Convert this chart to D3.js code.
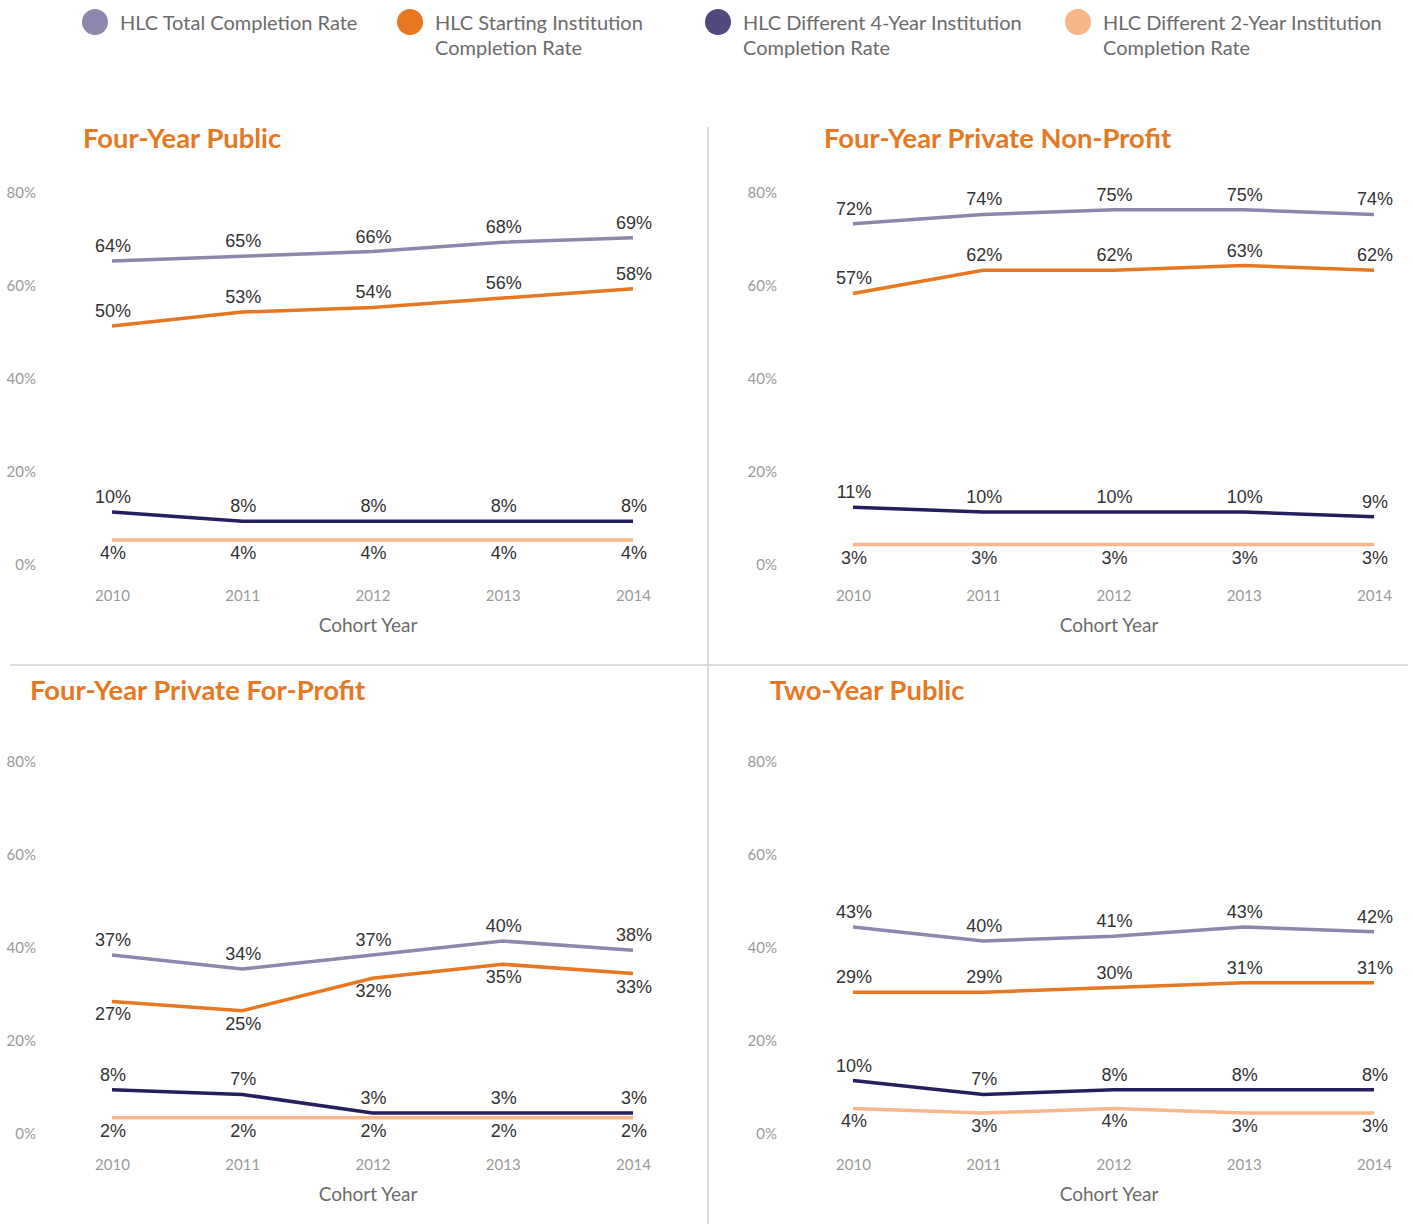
<!DOCTYPE html>
<html>
<head>
<meta charset="utf-8">
<script src="https://cdn.jsdelivr.net/npm/d3@7"></script>
<style>
  html, body { margin: 0; padding: 0; background: #fff; }
  svg { display: block; }
</style>
</head>
<body>
<svg id="chart" width="1413" height="1224"></svg>
<script>
// Cohort years on the x axis
const years = [2010, 2011, 2012, 2013, 2014];
const yTicks = [0, 20, 40, 60, 80];

// Series names (legend order)
const seriesNames = [
  "HLC Total Completion Rate",
  "HLC Starting Institution Completion Rate",
  "HLC Different 4-Year Institution Completion Rate",
  "HLC Different 2-Year Institution Completion Rate"
];
const legendLines = [
  ["HLC Total Completion Rate"],
  ["HLC Starting Institution", "Completion Rate"],
  ["HLC Different 4-Year Institution", "Completion Rate"],
  ["HLC Different 2-Year Institution", "Completion Rate"]
];

// Panel titles
const panelTitles = [
  "Four-Year Public",
  "Four-Year Private Non-Profit",
  "Four-Year Private For-Profit",
  "Two-Year Public"
];

// Completion rates (%) per sector, by cohort year
const publicFourTotal     = [64, 65, 66, 68, 69];
const publicFourStart     = [50, 53, 54, 56, 58];
const publicFourDiff4     = [10, 8, 8, 8, 8];
const publicFourDiff2     = [4, 4, 4, 4, 4];

const nonProfitTotal      = [72, 74, 75, 75, 74];
const nonProfitStart      = [57, 62, 62, 63, 62];
const nonProfitDiff4      = [11, 10, 10, 10, 9];
const nonProfitDiff2      = [3, 3, 3, 3, 3];

const forProfitTotal      = [37, 34, 37, 40, 38];
const forProfitStart      = [27, 25, 32, 35, 33];
const forProfitDiff4      = [8, 7, 3, 3, 3];
const forProfitDiff2      = [2, 2, 2, 2, 2];

const publicTwoTotal      = [43, 40, 41, 43, 42];
const publicTwoStart      = [29, 29, 30, 31, 31];
const publicTwoDiff4      = [10, 7, 8, 8, 8];
const publicTwoDiff2      = [4, 3, 4, 3, 3];

// Which label sits below its line (per panel, per series)
const labelBelow = [
  [false, false, false, true],
  [false, false, false, true],
  [false, true, false, true],
  [false, false, false, true]
];

const lineColors   = ["#8e87ad", "#e87722", "#241f5e", "#f9b68a"];
const legendColors = ["#8e87ad", "#e87722", "#524a7e", "#f9b68a"];

const panels = [
  { series: [publicFourTotal, publicFourStart, publicFourDiff4, publicFourDiff2], x0: 112, y0: 558.5, tx: 83,  ty: 137 },
  { series: [nonProfitTotal, nonProfitStart, nonProfitDiff4, nonProfitDiff2],     x0: 853, y0: 558.5, tx: 824, ty: 137 },
  { series: [forProfitTotal, forProfitStart, forProfitDiff4, forProfitDiff2],     x0: 112, y0: 1127,  tx: 30,  ty: 689 },
  { series: [publicTwoTotal, publicTwoStart, publicTwoDiff4, publicTwoDiff2],     x0: 853, y0: 1127,  tx: 770, ty: 689 }
];

const svg = d3.select("#chart");
const uiFont = "Lato, 'Open Sans', sans-serif";
const valueFont = "'Liberation Sans', Arial, sans-serif";

// Legend
const legendX = [95, 410, 718, 1078];
const legend = svg.append("g").attr("class", "legend");
seriesNames.forEach((name, i) => {
  const g = legend.append("g").attr("transform", `translate(${legendX[i]},22)`);
  g.append("circle").attr("r", 13).attr("fill", legendColors[i]);
  const t = g.append("text")
    .attr("x", 25).attr("y", 0)
    .attr("font-family", uiFont).attr("font-size", 20)
    .attr("fill", "#6b6b6b")
    .attr("dominant-baseline", "central");
  legendLines[i].forEach((ln, j) => {
    t.append("tspan").attr("x", 25).attr("dy", j === 0 ? 0 : 24.5).text(ln);
  });
});

// Panel dividers
svg.append("line").attr("x1", 708).attr("x2", 708).attr("y1", 127).attr("y2", 1224)
  .attr("stroke", "#cfcfcf").attr("stroke-width", 1.5);
svg.append("line").attr("x1", 10).attr("x2", 1408).attr("y1", 665).attr("y2", 665)
  .attr("stroke", "#cfcfcf").attr("stroke-width", 1.5);

panels.forEach((p, pi) => {
  const x = d3.scalePoint().domain(years).range([p.x0, p.x0 + 521]);
  const y = d3.scaleLinear().domain([0, 80]).range([p.y0, p.y0 - 372]);
  const g = svg.append("g").attr("class", "panel");

  // Title
  g.append("text")
    .attr("x", p.tx).attr("y", p.ty)
    .attr("dominant-baseline", "central")
    .attr("font-family", uiFont).attr("font-weight", 700)
    .attr("font-size", 27.4).attr("fill", "#e87722")
    .text(panelTitles[pi]);

  // Y axis (labels only)
  const yAxis = g.append("g")
    .attr("transform", `translate(${p.x0 - 76},6.5)`)
    .call(d3.axisLeft(y).tickValues(yTicks).tickSize(0).tickPadding(0).tickFormat(d => d + "%"));
  yAxis.select(".domain").remove();
  yAxis.selectAll("text")
    .attr("font-family", uiFont).attr("font-size", 15).attr("fill", "#9a9a9a");

  // X axis (labels only)
  const xAxis = g.append("g")
    .attr("transform", `translate(0,${p.y0 + 36.5})`)
    .call(d3.axisBottom(x).tickSize(0).tickPadding(0).tickFormat(d3.format("d")));
  xAxis.select(".domain").remove();
  xAxis.selectAll("text")
    .attr("dy", null)
    .attr("dominant-baseline", "central")
    .attr("font-family", uiFont).attr("font-size", 15).attr("fill", "#9a9a9a");

  // X axis title
  g.append("text")
    .attr("x", p.x0 + 256).attr("y", p.y0 + 66)
    .attr("text-anchor", "middle").attr("dominant-baseline", "central")
    .attr("font-family", uiFont).attr("font-size", 19).attr("fill", "#6b6b6b")
    .text("Cohort Year");

  // Lines
  const line = d3.line().x((d, i) => x(years[i])).y(d => y(d));
  p.series.forEach((vals, si) => {
    g.append("path")
      .datum(vals)
      .attr("d", line)
      .attr("fill", "none")
      .attr("stroke", lineColors[si])
      .attr("stroke-width", 3.5);
  });

  // Value labels
  p.series.forEach((vals, si) => {
    const below = labelBelow[pi][si];
    g.selectAll(null)
      .data(vals)
      .join("text")
      .attr("x", (d, i) => x(years[i]) + 1)
      .attr("y", d => y(d) + (below ? 13 : -15))
      .attr("text-anchor", "middle")
      .attr("dominant-baseline", "central")
      .attr("font-family", valueFont).attr("font-size", 18).attr("fill", "#333")
      .text(d => d + "%");
  });
});
</script>
</body>
</html>
